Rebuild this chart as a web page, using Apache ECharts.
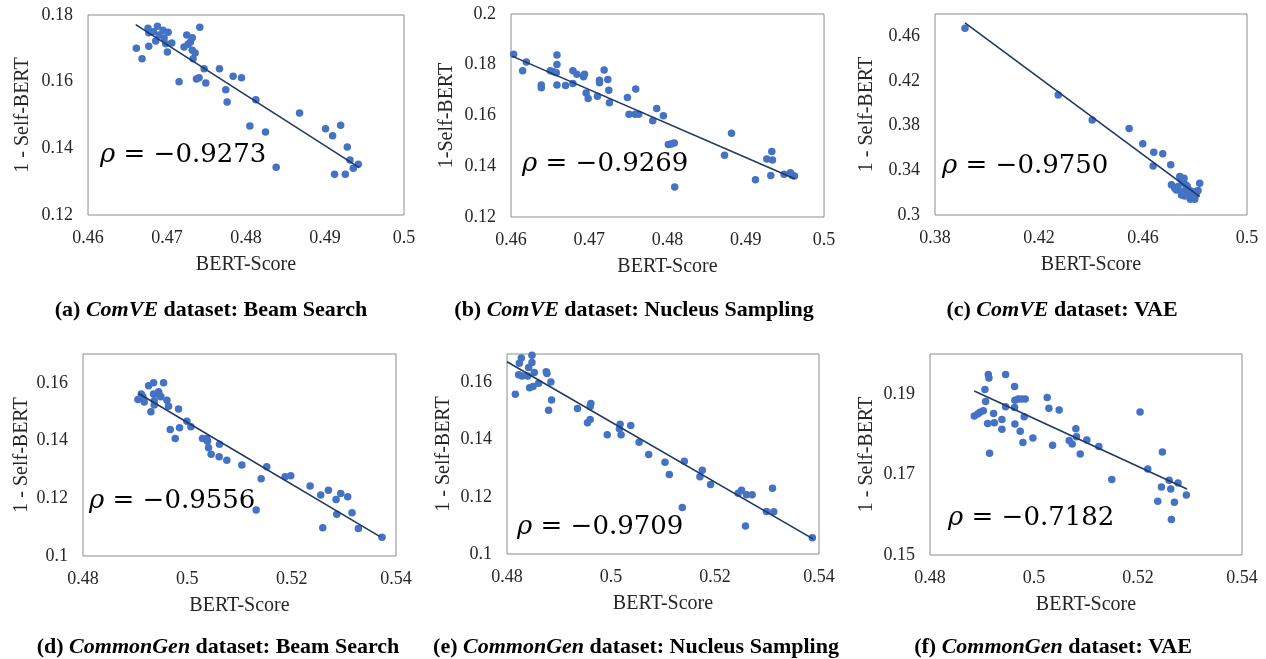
<!DOCTYPE html>
<html>
<head>
<meta charset="utf-8">
<script src="https://cdn.jsdelivr.net/npm/echarts@6/dist/echarts.min.js"></script>
<style>
  html, body { margin: 0; padding: 0; background: #fff; }
  #main { width: 1266px; height: 659px; }
</style>
</head>
<body>
<div id="main"></div>
<script>
// (a) ComVE - Beam Search
var comveBeam = [
  [0.46612, 0.1700], [0.46684, 0.1669], [0.4676, 0.1760], [0.46769, 0.1706], [0.4677, 0.1747],
  [0.46828, 0.1750], [0.46857, 0.1722], [0.46879, 0.1766], [0.4690, 0.1740], [0.4695, 0.1754],
  [0.46963, 0.1731], [0.46984, 0.1714], [0.47005, 0.1689], [0.47014, 0.1748], [0.4706, 0.1716],
  [0.47153, 0.1600], [0.47216, 0.1704], [0.4725, 0.1740], [0.47267, 0.1712], [0.47297, 0.1719],
  [0.4732, 0.1732], [0.4733, 0.1669], [0.4732, 0.1694], [0.47356, 0.1686], [0.47415, 0.1763],
  [0.47373, 0.1608], [0.47406, 0.1612], [0.4747, 0.1639], [0.47491, 0.1596], [0.47664, 0.1639],
  [0.47744, 0.1576], [0.47761, 0.1539], [0.47837, 0.1616], [0.47943, 0.1612], [0.48049, 0.1467],
  [0.48125, 0.1546], [0.48247, 0.1449], [0.48382, 0.1343], [0.48678, 0.1506], [0.49007, 0.1459],
  [0.49096, 0.1438], [0.49121, 0.1322], [0.49198, 0.1469], [0.49257, 0.1322], [0.49282, 0.1404],
  [0.49316, 0.1365], [0.49358, 0.1340], [0.49421, 0.1352]
];
var comveBeamTrend = [[0.46604, 0.1771], [0.49434, 0.1342]];

// (b) ComVE - Nucleus Sampling
var comveNucleus = [
  [0.46034, 0.1841], [0.46149, 0.1776], [0.46196, 0.1811], [0.46387, 0.1720], [0.46387, 0.1709],
  [0.46502, 0.1776], [0.46544, 0.1772], [0.46578, 0.1768], [0.46587, 0.1838], [0.46587, 0.1801],
  [0.46587, 0.1720], [0.46697, 0.1718], [0.46791, 0.1776], [0.46791, 0.1726], [0.46842, 0.1763],
  [0.46927, 0.1753], [0.46939, 0.1763], [0.4696, 0.1689], [0.46986, 0.1667], [0.47105, 0.1676],
  [0.47131, 0.1739], [0.47131, 0.1729], [0.4719, 0.1779], [0.47237, 0.1742], [0.4725, 0.1700],
  [0.47258, 0.1650], [0.47488, 0.1671], [0.47509, 0.1605], [0.47586, 0.1605], [0.47594, 0.1704],
  [0.47632, 0.1605], [0.47811, 0.1579], [0.47862, 0.1628], [0.47947, 0.1599], [0.48011, 0.1486],
  [0.48045, 0.1488], [0.48087, 0.1492], [0.48092, 0.1318], [0.48729, 0.1443], [0.48818, 0.1530],
  [0.49124, 0.1347], [0.49269, 0.1429], [0.4932, 0.1364], [0.49333, 0.1458], [0.49341, 0.1425],
  [0.4949, 0.1368], [0.49571, 0.1374], [0.49596, 0.1364], [0.49622, 0.1362]
];
var comveNucleusTrend = [[0.46013, 0.1834], [0.49626, 0.1351]];

// (c) ComVE - VAE
var comveVae = [
  [0.39153, 0.4672], [0.42739, 0.4075], [0.44045, 0.3850], [0.45467, 0.3775], [0.45992, 0.3639],
  [0.46414, 0.3561], [0.4676, 0.3549], [0.46389, 0.3438], [0.47067, 0.3450], [0.47093, 0.3270],
  [0.47221, 0.3240], [0.47285, 0.3225], [0.47413, 0.3345], [0.47477, 0.3315], [0.47541, 0.3291],
  [0.47579, 0.3330], [0.47643, 0.3270], [0.47669, 0.3231], [0.47733, 0.3195], [0.47797, 0.3165],
  [0.47861, 0.3150], [0.47925, 0.3171], [0.47989, 0.3159], [0.48053, 0.3195], [0.48117, 0.3219],
  [0.48181, 0.3285], [0.47477, 0.3180], [0.47605, 0.3171], [0.47771, 0.3225], [0.47899, 0.3210],
  [0.47349, 0.3255], [0.47707, 0.3255], [0.47541, 0.3210], [0.47822, 0.3141], [0.47989, 0.3141]
];
var comveVaeTrend = [[0.39153, 0.4720], [0.48181, 0.3165]];

// (d) CommonGen - Beam Search
var commongenBeam = [
  [0.49053, 0.1542], [0.49117, 0.1561], [0.49149, 0.1552], [0.49174, 0.1534], [0.49257, 0.1590],
  [0.49302, 0.1500], [0.49353, 0.1600], [0.49353, 0.1561], [0.49366, 0.1538], [0.49366, 0.1523],
  [0.49449, 0.1569], [0.49468, 0.1557], [0.49494, 0.1552], [0.49545, 0.1600], [0.49609, 0.1540],
  [0.49640, 0.1519], [0.49672, 0.1438], [0.49768, 0.1407], [0.49832, 0.1509], [0.49851, 0.1444],
  [0.49991, 0.1467], [0.50068, 0.1448], [0.50291, 0.1407], [0.50374, 0.1407], [0.50406, 0.1375],
  [0.50387, 0.1398], [0.50457, 0.1353], [0.50617, 0.1387], [0.5061, 0.1344], [0.50757, 0.1332],
  [0.51045, 0.1315], [0.51319, 0.1159], [0.51415, 0.1268], [0.51523, 0.1309], [0.51874, 0.1275],
  [0.51983, 0.1278], [0.52353, 0.1243], [0.52557, 0.1211], [0.52596, 0.1098], [0.52704, 0.1228],
  [0.52851, 0.1196], [0.52864, 0.1145], [0.52941, 0.1217], [0.53074, 0.1205], [0.53157, 0.1150],
  [0.53279, 0.1095], [0.53732, 0.1065]
];
var commongenBeamTrend = [[0.49066, 0.1563], [0.53694, 0.1067]];

// (e) CommonGen - Nucleus Sampling
var commongenNucleus = [
  [0.4816, 0.1559], [0.48237, 0.1668], [0.48224, 0.1627], [0.48275, 0.1686], [0.48288, 0.1623],
  [0.48397, 0.1623], [0.48416, 0.1653], [0.48435, 0.1582], [0.4848, 0.1670], [0.4848, 0.1696],
  [0.485, 0.1586], [0.48525, 0.1635], [0.48608, 0.1598], [0.48755, 0.1638], [0.48768, 0.1632],
  [0.488, 0.1503], [0.48844, 0.1602], [0.48857, 0.1539], [0.49356, 0.1509], [0.49548, 0.1459],
  [0.49599, 0.1471], [0.49612, 0.1527], [0.49599, 0.1516], [0.49928, 0.1417], [0.50162, 0.1438],
  [0.50175, 0.1454], [0.50194, 0.1417], [0.5038, 0.1450], [0.5054, 0.1391], [0.50725, 0.1348],
  [0.51038, 0.1321], [0.51122, 0.1278], [0.51371, 0.1163], [0.5141, 0.1325], [0.5171, 0.1270],
  [0.51755, 0.1293], [0.51915, 0.1243], [0.52446, 0.1213], [0.5251, 0.1223], [0.52586, 0.1098],
  [0.52606, 0.1207], [0.52714, 0.1207], [0.52989, 0.1149], [0.53105, 0.1230], [0.5313, 0.1148],
  [0.53872, 0.1057]
];
var commongenNucleusTrend = [[0.48, 0.1673], [0.53885, 0.1053]];

// (f) CommonGen - VAE
var commongenVae = [
  [0.48852, 0.1846], [0.48916, 0.1851], [0.48961, 0.1855], [0.49025, 0.1859], [0.49057, 0.1912],
  [0.49069, 0.1882], [0.49108, 0.1827], [0.49121, 0.1949], [0.49133, 0.1940], [0.49146, 0.1753],
  [0.49223, 0.1852], [0.49236, 0.1829], [0.49383, 0.1837], [0.49383, 0.1813], [0.49454, 0.1949],
  [0.49454, 0.1869], [0.49626, 0.1919], [0.49626, 0.1867], [0.49633, 0.1885], [0.49633, 0.1826],
  [0.49697, 0.1888], [0.49735, 0.1808], [0.49761, 0.1888], [0.49787, 0.1780], [0.49812, 0.1844],
  [0.49831, 0.1888], [0.49979, 0.1791], [0.50254, 0.1892], [0.50286, 0.1865], [0.50357, 0.1773],
  [0.50484, 0.1861], [0.50677, 0.1785], [0.50734, 0.1776], [0.50805, 0.1814], [0.50817, 0.1794],
  [0.50888, 0.1751], [0.51016, 0.1786], [0.51246, 0.1770], [0.51496, 0.1688], [0.5204, 0.1856],
  [0.52188, 0.1714], [0.5238, 0.1634], [0.5245, 0.1669], [0.52469, 0.1756], [0.52598, 0.1686],
  [0.5263, 0.1664], [0.52642, 0.1588], [0.527, 0.1631], [0.5277, 0.1679], [0.5293, 0.1649]
];
var commongenVaeTrend = [[0.48852, 0.1908], [0.52943, 0.1664]];

var rhoValues = ["−0.9273", "−0.9269", "−0.9750", "−0.9556", "−0.9709", "−0.7182"];
var yNames = ["1 - Self-BERT", "1-Self-BERT", "1 - Self-BERT", "1 - Self-BERT", "1 - Self-BERT", "1 - Self-BERT"];
var captionLabels = ["(a)", "(b)", "(c)", "(d)", "(e)", "(f)"];
var captionDatasets = ["ComVE", "ComVE", "ComVE", "CommonGen", "CommonGen", "CommonGen"];
var captionMethods = ["Beam Search", "Nucleus Sampling", "VAE", "Beam Search", "Nucleus Sampling", "VAE"];

// axis ranges: [min, max, interval]
var xRanges = [[0.46, 0.5, 0.01], [0.46, 0.5, 0.01], [0.38, 0.5, 0.04], [0.48, 0.54, 0.02], [0.48, 0.54, 0.02], [0.48, 0.54, 0.02]];
var yRanges = [[0.12, 0.18, 0.02], [0.12, 0.2, 0.02], [0.3, 0.48, 0.04], [0.1, 0.17, 0.02], [0.1, 0.17, 0.02], [0.15, 0.2, 0.02]];

var scatterSets = [comveBeam, comveNucleus, comveVae, commongenBeam, commongenNucleus, commongenVae];
var trendSets = [comveBeamTrend, comveNucleusTrend, comveVaeTrend, commongenBeamTrend, commongenNucleusTrend, commongenVaeTrend];

// layout
var grids = [
  { left: 88, top: 15, width: 316, height: 200 },
  { left: 511, top: 14, width: 313, height: 203 },
  { left: 935, top: 14, width: 312, height: 201 },
  { left: 83, top: 354, width: 313, height: 202 },
  { left: 507, top: 354, width: 312, height: 200 },
  { left: 930, top: 354, width: 312, height: 201 }
];
var yNameGaps = [55, 54, 58, 51, 53, 53];
var rhoPos = [[100, 155], [522, 164], [942, 166], [89, 501], [517, 527], [948, 518]];
var captionPos = [[211, 310], [634, 310], [1062, 310], [218, 647], [636, 647], [1053, 647]];

var serif = '"Liberation Serif", "Times New Roman", serif';
var mathFont = '"DejaVu Serif", serif';
var dotColor = "#4472C4";
var lineColor = "#1F3864";

var chart = echarts.init(document.getElementById("main"));

var gridOpt = [], xAxes = [], yAxes = [], series = [], graphics = [];

for (var i = 0; i < 6; i++) {
  gridOpt.push({
    left: grids[i].left, top: grids[i].top, width: grids[i].width, height: grids[i].height,
    show: true, borderColor: "#8c8c8c", borderWidth: 1, backgroundColor: "#fff"
  });
  xAxes.push({
    type: "value", gridIndex: i,
    min: xRanges[i][0], max: xRanges[i][1], interval: xRanges[i][2],
    name: "BERT-Score", nameLocation: "middle", nameGap: 40,
    nameTextStyle: { fontFamily: serif, fontSize: 20, color: "#262626" },
    axisLine: { show: false }, axisTick: { show: false }, splitLine: { show: false },
    axisLabel: { fontFamily: serif, fontSize: 18, color: "#262626", margin: 14 }
  });
  yAxes.push({
    type: "value", gridIndex: i,
    min: yRanges[i][0], max: yRanges[i][1], interval: yRanges[i][2],
    name: yNames[i], nameLocation: "middle", nameGap: yNameGaps[i],
    nameTextStyle: { fontFamily: serif, fontSize: 20, color: "#262626" },
    axisLine: { show: false }, axisTick: { show: false }, splitLine: { show: false },
    axisLabel: { fontFamily: serif, fontSize: 18, color: "#262626", margin: 15, showMaxLabel: i === 0 || i === 1 }
  });
  series.push({
    type: "scatter", xAxisIndex: i, yAxisIndex: i,
    data: scatterSets[i], symbolSize: 7.5,
    itemStyle: { color: dotColor, opacity: 1 }
  });
  series.push({
    type: "line", xAxisIndex: i, yAxisIndex: i,
    data: trendSets[i], symbol: "none",
    lineStyle: { color: lineColor, width: 1.6 }
  });
  graphics.push({
    type: "text", x: rhoPos[i][0], y: rhoPos[i][1], z: 100,
    style: {
      text: "{r|ρ} = " + rhoValues[i],
      fontFamily: mathFont, fontSize: 26, fill: "#000",
      textVerticalAlign: "middle",
      rich: { r: { fontFamily: mathFont, fontSize: 26, fontStyle: "italic", fill: "#000" } }
    }
  });
  graphics.push({
    type: "text", x: captionPos[i][0], y: captionPos[i][1], z: 100,
    style: {
      text: captionLabels[i] + " {it|" + captionDatasets[i] + "} dataset: " + captionMethods[i],
      fontFamily: serif, fontSize: 22, fontWeight: "bold", fill: "#000",
      textAlign: "center", textVerticalAlign: "middle",
      rich: { it: { fontFamily: serif, fontSize: 22, fontWeight: "bold", fontStyle: "italic", fill: "#000" } }
    }
  });
}

chart.setOption({
  animation: false,
  backgroundColor: "#fff",
  grid: gridOpt,
  xAxis: xAxes,
  yAxis: yAxes,
  series: series,
  graphic: graphics
});
</script>
</body>
</html>
